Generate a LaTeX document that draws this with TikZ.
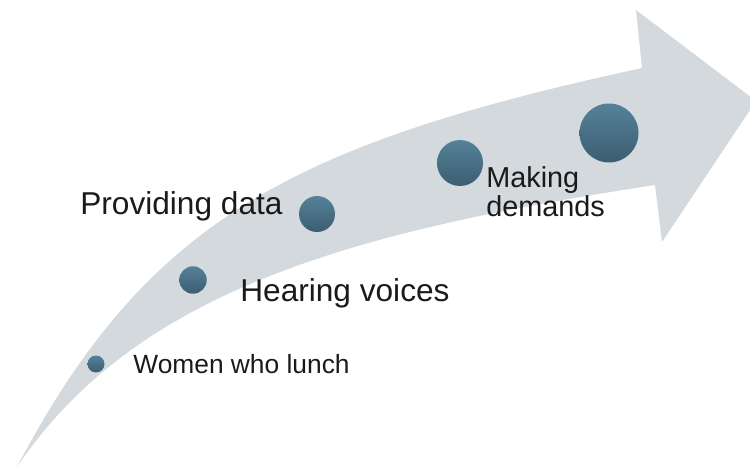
\documentclass[tikz,border=0pt]{standalone}
\usepackage{fontspec}
\setmainfont{Liberation Sans}
\definecolor{band}{HTML}{D4D9DE}
\definecolor{dottop}{HTML}{548299}
\definecolor{dotbot}{HTML}{3C5D71}
\definecolor{ink}{HTML}{1A1A1A}
\tikzset{
  stage/.style={circle, draw=none, inner sep=0pt, top color=dottop, bottom color=dotbot},
  caption/.style={anchor=base west, inner sep=0pt, text=ink, align=left}
}

\begin{document}
\begin{tikzpicture}[x=0.02cm, y=-0.02cm]
  \useasboundingbox (0,0) rectangle (750,469);
  % sweeping arrow
  \fill[band] (17,467) .. controls (147,220) and (292,144) .. (642,68)
    -- (636,10) -- (756,101) -- (662,242) -- (655,185)
    .. controls (355,231) and (137,289) .. (17,467) -- cycle;
  % growing stages
  \node[stage, minimum size=0.34cm] (lunch)   at (96,364)  {};
  \node[stage, minimum size=0.55cm] (voices)  at (193,280) {};
  \node[stage, minimum size=0.72cm] (data)    at (317,214) {};
  \node[stage, minimum size=0.92cm] (demands) at (460,163) {};
  \node[stage, minimum size=1.18cm] (top)     at (609,133) {};
  % stage captions (multi-line base sits on the last line)
  \node[caption, font=\fontsize{15}{17}\selectfont] (lunchtext) at (133,373) {Women who lunch};
  \node[caption, font=\fontsize{18}{21}\selectfont] (voicestext) at (240,302) {Hearing voices};
  \node[caption, font=\fontsize{18}{21}\selectfont] (datatext) at (80,215) {Providing data};
  \node[caption, font=\fontsize{16.4}{17}\selectfont] (demandstext) at (486,217) {Making\\demands};
\end{tikzpicture}
\end{document}
